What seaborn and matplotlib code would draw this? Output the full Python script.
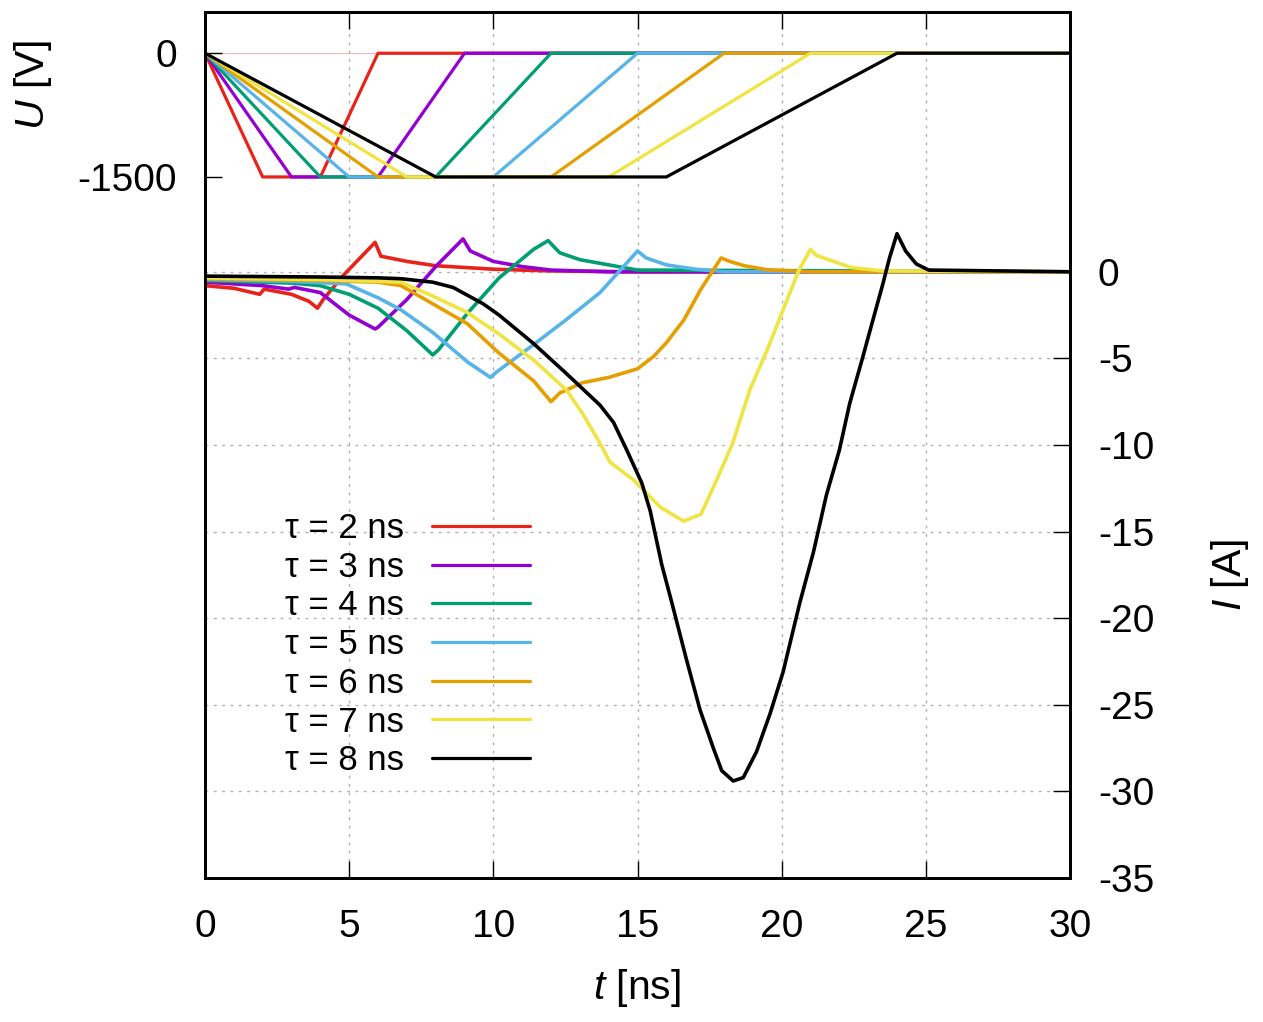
import matplotlib
matplotlib.use("Agg")
import numpy as np
import pandas as pd
import seaborn as sns
import matplotlib.pyplot as plt

# ---------------- data ----------------
taus = [2, 3, 4, 5, 6, 7, 8]
colors = ["#e8231a", "#9400d3", "#009e73", "#56b4e9", "#e69f00", "#f0e442", "#000000"]
labels = ["τ = 2 ns", "τ = 3 ns", "τ = 4 ns", "τ = 5 ns", "τ = 6 ns", "τ = 7 ns", "τ = 8 ns"]
U_amp = -1500.0
t_end = 30.0

# current traces, I in A, t in ns
t2 = [0, 1, 1.9, 2.05, 3, 3.6, 3.9, 4.1, 4.8, 5.9, 6.1, 7, 8, 10, 12, 15, 30]
i2 = [-0.8, -0.95, -1.3, -1.0, -1.3, -1.7, -2.1, -1.6, -0.2, 1.7, 0.9, 0.6, 0.35, 0.15, 0.05, 0, 0]

t3 = [0, 2, 2.9, 3.1, 4, 5, 5.9, 6.0, 7, 8, 8.95, 9.2, 10, 11, 12, 14, 30]
i3 = [-0.6, -0.8, -1.0, -0.9, -1.2, -2.5, -3.3, -3.2, -1.6, 0.3, 1.9, 1.2, 0.6, 0.3, 0.1, 0, 0]

t4 = [0, 3, 4, 5, 6, 7, 7.9, 8.1, 9.1, 10.2, 11.4, 11.9, 12.3, 13, 14, 15, 30]
i4 = [-0.5, -0.65, -0.8, -1.3, -2.1, -3.4, -4.8, -4.5, -2.4, -0.35, 1.3, 1.8, 1.1, 0.7, 0.4, 0.1, 0]

t5 = [0, 3, 4.9, 6, 6.8, 7.9, 9.1, 9.9, 10.1, 11.4, 12.5, 13.7, 15.0, 15.3, 16, 17, 18, 30]
i5 = [-0.45, -0.55, -0.7, -1.5, -2.2, -3.5, -5.2, -6.1, -5.8, -4.2, -2.8, -1.2, 1.2, 0.8, 0.4, 0.15, 0, 0]

t6 = [0, 4, 6, 6.8, 7.9, 9.1, 10.2, 11.4, 12.0, 12.3, 13.1, 14, 15, 15.55, 16, 16.6, 17.2, 17.9, 18.2, 18.7, 19.5, 21, 30]
i6 = [-0.4, -0.5, -0.6, -0.8, -1.85, -3.0, -4.7, -6.3, -7.5, -7.0, -6.4, -6.1, -5.6, -4.9, -4.1, -2.8, -1.0, 0.8, 0.6, 0.35, 0.12, 0, 0]

t7 = [0, 4, 6, 6.8, 7.9, 9.1, 10.2, 11.4, 12.55, 13.1, 13.7, 14.05, 14.85, 15.8, 16.6, 17.2, 17.75, 18.3, 18.9,
      19.5, 20.05, 20.6, 21.0, 21.2, 21.55, 22.4, 23.5, 30]
i7 = [-0.35, -0.45, -0.55, -0.6, -1.4, -2.35, -3.6, -5.1, -6.85, -8.2, -9.9, -11.0, -12.0, -13.6, -14.4, -14.0,
      -12.0, -9.9, -6.8, -4.5, -2.2, 0.1, 1.3, 0.95, 0.75, 0.25, 0.05, 0]

t8 = [0, 4, 6, 6.8, 7.9, 8.6, 9.65, 10.2, 11.4, 12.55, 13.7, 14.17, 14.63, 15.15, 15.44, 15.84, 16.19, 16.7,
      17.17, 17.63, 17.92, 18.32, 18.67, 19.13, 19.6, 20.05, 20.63, 21.1, 21.55, 22.0, 22.36, 22.8, 23.17,
      23.5, 23.74, 24.0, 24.3, 24.67, 25.1, 30]
i8 = [-0.25, -0.3, -0.35, -0.4, -0.6, -0.9, -1.85, -2.5, -4.15, -5.9, -7.7, -8.7, -10.3, -12.2, -13.8, -16.9,
      -19.1, -22.4, -25.3, -27.5, -28.8, -29.4, -29.2, -27.7, -25.5, -23.1, -19.1, -16.2, -12.9, -10.3, -7.6,
      -5.0, -2.75, -0.76, 0.8, 2.2, 1.2, 0.45, 0.1, 0]

current_t = [t2, t3, t4, t5, t6, t7, t8]
current_i = [i2, i3, i4, i5, i6, i7, i8]

# ---------------- style ----------------
sns.set_theme(style="white")
plt.rcParams["font.family"] = ["Liberation Sans", "DejaVu Sans"]
plt.rcParams["axes.unicode_minus"] = False
plt.rcParams["mathtext.fontset"] = "custom"
plt.rcParams["mathtext.it"] = "Liberation Sans:italic"
plt.rcParams["mathtext.rm"] = "Liberation Sans"
for k in ("text.color", "axes.labelcolor", "xtick.color", "ytick.color",
          "xtick.labelcolor", "ytick.labelcolor"):
    plt.rcParams[k] = "black"

W, H = 1263, 1022
fig = plt.figure(figsize=(W / 100, H / 100), dpi=100)
L, R, T, B = 205, 1070, 12, 878
ax = fig.add_axes([L / W, 1 - B / H, (R - L) / W, (B - T) / H])
ax2 = ax.twinx()

FS = 28
LFS = 29.5
grid_kw = dict(color="#b0b0b0", linestyle=(0, (2, 4)), linewidth=1.0)

# voltage pulses (left axis)
u_handles = []
for tau, c, lab in zip(taus, colors, labels):
    df = pd.DataFrame({"t": [0, tau, 2 * tau, 3 * tau, t_end],
                       "U": [0, U_amp, U_amp, 0, 0]})
    sns.lineplot(data=df, x="t", y="U", color=c, linewidth=2.3, ax=ax, sort=False)
    u_handles.append(ax.lines[-1])
ax.axhline(0, color="#f6b9b3", linewidth=0.8, zorder=0)

# currents (right axis)
for tt, ii, c in zip(current_t, current_i, colors):
    df = pd.DataFrame({"t": tt, "I": ii})
    sns.lineplot(data=df, x="t", y="I", color=c, linewidth=2.6, ax=ax2, sort=False)

ax.set_xlim(0, 30)
ax.set_ylim(-10000, 500)
ax2.set_ylim(-35, 15)

ax.set_xticks(np.arange(0, 31, 5))
ax.set_yticks([0, -1500])
ax2.set_yticks(np.arange(0, -36, -5))

ax.xaxis.grid(True, **grid_kw)
ax2.yaxis.grid(True, **grid_kw)
ax.yaxis.grid(False)
ax2.xaxis.grid(False)
ax.set_axisbelow(True)

ax.tick_params(axis="x", direction="in", length=12, width=1, top=True, bottom=True,
               labelsize=FS, pad=22, color="black", labelcolor="black")
ax.tick_params(axis="y", direction="in", length=12, width=1, labelsize=FS, pad=20,
               color="black", labelcolor="black")
ax2.tick_params(axis="y", direction="in", length=12, width=1, labelsize=FS, pad=20,
                color="black", labelcolor="black")

for a in (ax, ax2):
    for s in a.spines.values():
        s.set_color("black")
        s.set_linewidth(2.0)

ax.set_xlabel("")
ax.set_ylabel("")
ax2.set_ylabel("")
fig.text(637 / W, 1 - 988 / H, "$t$ [ns]", fontsize=LFS, ha="center", va="center", color="black")
fig.text(33 / W, 1 - 85 / H, "$U$ [V]", fontsize=LFS, ha="center", va="center", rotation=90, color="black")
fig.text(1230 / W, 1 - 575 / H, "$I$ [A]", fontsize=LFS, ha="center", va="center", rotation=90, color="black")

leg = ax2.legend(u_handles, labels, loc="upper left", bbox_to_anchor=(285 / W, 1 - 512 / H),
                 bbox_transform=fig.transFigure, frameon=False, fontsize=25, markerfirst=False,
                 handlelength=2.82, handletextpad=0.8, labelspacing=0.165, borderpad=0, borderaxespad=0)
for h in leg.get_lines():
    h.set_linewidth(2.3)
for txt in leg.get_texts():
    txt.set_color("black")

fig.savefig("out.png", dpi=100)
